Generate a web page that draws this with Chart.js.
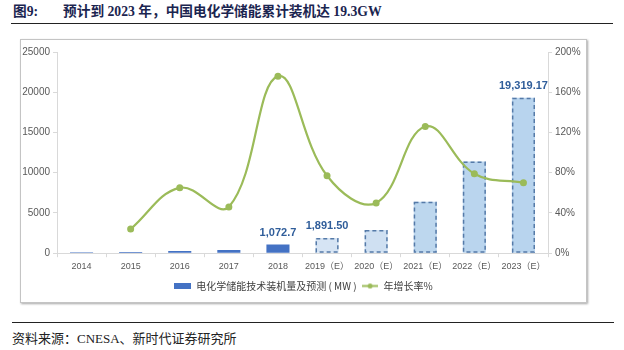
<!DOCTYPE html>
<html><head><meta charset="utf-8">
<script src="https://cdn.jsdelivr.net/npm/chart.js@4.4.0/dist/chart.umd.min.js"></script>
<style>
html,body{margin:0;padding:0;background:#fff;}
body{width:624px;height:350px;position:relative;overflow:hidden;font-family:"Liberation Serif","Noto Sans CJK SC",serif;}
#title{position:absolute;left:13px;top:3px;font-size:13.7px;line-height:18px;font-weight:bold;color:#1b2550;white-space:nowrap;}
#title .fig{display:inline-block;width:50px;}
#rule1{position:absolute;left:11px;width:602px;top:23px;height:0;border-top:1px solid #222;}
#box{position:absolute;left:20px;top:39px;width:565px;height:262px;border:1px solid #c4c4c4;box-shadow:1px 1px 2px rgba(0,0,0,.35);background:#fff;}
#c{position:absolute;left:0;top:0;}
#rule2{position:absolute;left:12px;width:602px;top:322px;height:0;border-top:1px solid #222;}
#src{position:absolute;left:12px;top:330px;font-size:13px;line-height:18px;color:#222;white-space:nowrap;}
</style></head>
<body>
<div id="title"><span class="fig">图9:</span>预计到 2023 年，中国电化学储能累计装机达 19.3GW</div>
<div id="rule1"></div>
<div id="box"><canvas id="c" width="565" height="262"></canvas></div>
<div id="rule2"></div>
<div id="src">资料来源：CNESA、新时代证券研究所</div>
<script>
const categories = ["2014","2015","2016","2017","2018","2019（E）","2020（E）","2021（E）","2022（E）","2023（E）"];
const capacityMW = [130, 162, 267, 390, 1072.7, 1891.5, 2875, 6400, 11400, 19319.17];
const growthPct = [null, 24, 65, 46, 176, 77, 50, 126, 79, 70];
const isForecast = [false,false,false,false,false,true,true,true,true,true];
const barLabels = [null,null,null,null,"1,072.7","1,891.50",null,null,null,"19,319.17"];
const leftTicks = [0,5000,10000,15000,20000,25000];
const rightTicks = [0,40,80,120,160,200];
const seriesNames = ["电化学储能技术装机量及预测 ( MW )","年增长率%"];

const SOLID = '#4472c4';
const FCAST_FILL = ['#d6e4f4','#cfe0f2','#bdd7ee','#bad5ee','#b8d4ee'];
const GREEN = '#9bbb59';
const AXIS = '#d9d9d9';
const TICKC = '#595959';
const SANS = '"Liberation Sans","Noto Sans CJK SC",sans-serif';

const barColors = capacityMW.map((v,i)=> isForecast[i] ? FCAST_FILL[i-5] : SOLID);

function mkIcon(w,h,draw){const c=document.createElement('canvas');c.width=w;c.height=h;draw(c.getContext('2d'));return c;}
const barIcon = mkIcon(17,6,ctx=>{ctx.fillStyle=SOLID;ctx.fillRect(0,0,17,6);});
const lineIcon = mkIcon(16,7,ctx=>{ctx.strokeStyle=GREEN;ctx.lineWidth=2;ctx.beginPath();ctx.moveTo(0,3.5);ctx.lineTo(16,3.5);ctx.stroke();ctx.fillStyle=GREEN;ctx.beginPath();ctx.arc(8,3.5,2.5,0,Math.PI*2);ctx.fill();});

const dashedBorders = {
  id:'dashedBorders',
  afterDatasetDraw(chart,args){
    if(args.index!==0) return;
    const ctx=chart.ctx;
    ctx.save();
    ctx.strokeStyle='#557aa8';
    ctx.lineWidth=1.5;
    ctx.setLineDash([4,3]);
    args.meta.data.forEach((el,i)=>{
      if(!isForecast[i]) return;
      const {x,y,base,width}=el.getProps(['x','y','base','width'],true);
      ctx.strokeRect(x-width/2+0.75,y+0.75,width-1.5,base-y-1.5);
    });
    ctx.restore();
  }
};
const valueLabels = {
  id:'valueLabels',
  afterDatasetsDraw(chart){
    const meta=chart.getDatasetMeta(0);
    const ctx=chart.ctx;
    ctx.save();
    ctx.fillStyle='#2f5d9a';
    ctx.font='bold 11px '+SANS;
    ctx.textAlign='center';
    ctx.textBaseline='middle';
    meta.data.forEach((el,i)=>{
      if(!barLabels[i]) return;
      ctx.fillText(barLabels[i], el.x, el.y-12);
    });
    ctx.restore();
  }
};

Chart.defaults.font.family = SANS;
new Chart(document.getElementById('c'),{
  data:{
    labels:categories,
    datasets:[
      {type:'bar',label:seriesNames[0],data:capacityMW,backgroundColor:barColors,borderWidth:0,
       barPercentage:0.47,categoryPercentage:1,yAxisID:'y',order:2},
      {type:'line',label:seriesNames[1],data:growthPct,borderColor:GREEN,backgroundColor:GREEN,borderWidth:2.2,
       tension:0.4,pointRadius:3.5,pointBorderWidth:0,pointBackgroundColor:GREEN,yAxisID:'y1',order:1}
    ]
  },
  options:{
    responsive:false,devicePixelRatio:1,animation:false,
    layout:{padding:{top:12,bottom:1,left:0,right:0}},
    plugins:{
      tooltip:{enabled:false},
      legend:{position:'bottom',
        labels:{usePointStyle:true,pointStyleWidth:17,boxHeight:7,padding:5,color:'#404040',font:{size:10,family:'"Noto Sans CJK SC",sans-serif'},
          sort:(a,b)=>a.datasetIndex-b.datasetIndex,
          generateLabels(chart){
            const items=Chart.defaults.plugins.legend.labels.generateLabels(chart);
            items.forEach(it=>{it.pointStyle = it.datasetIndex===0?barIcon:lineIcon;});
            return items;
          }}}
    },
    scales:{
      x:{grid:{display:true,drawOnChartArea:false,tickLength:4,color:AXIS,offset:true},border:{color:AXIS},
         ticks:{color:TICKC,font:{size:9},padding:4,maxRotation:0,autoSkip:false}},
      y:{position:'left',min:0,max:25000,afterBuildTicks:s=>{s.ticks=leftTicks.map(v=>({value:v}));},
         grid:{drawOnChartArea:false,tickLength:4,color:AXIS},border:{color:AXIS},
         ticks:{color:TICKC,font:{size:10},padding:3,callback:v=>String(v)},afterFit:s=>{s.width=36;}},
      y1:{position:'right',min:0,max:200,afterBuildTicks:s=>{s.ticks=rightTicks.map(v=>({value:v}));},
         grid:{drawOnChartArea:false,tickLength:4,color:AXIS},border:{color:AXIS},
         ticks:{color:TICKC,font:{size:10},padding:3,callback:v=>v+'%'},afterFit:s=>{s.width=38;}}
    }
  },
  plugins:[dashedBorders,valueLabels]
});
</script>
</body></html>
